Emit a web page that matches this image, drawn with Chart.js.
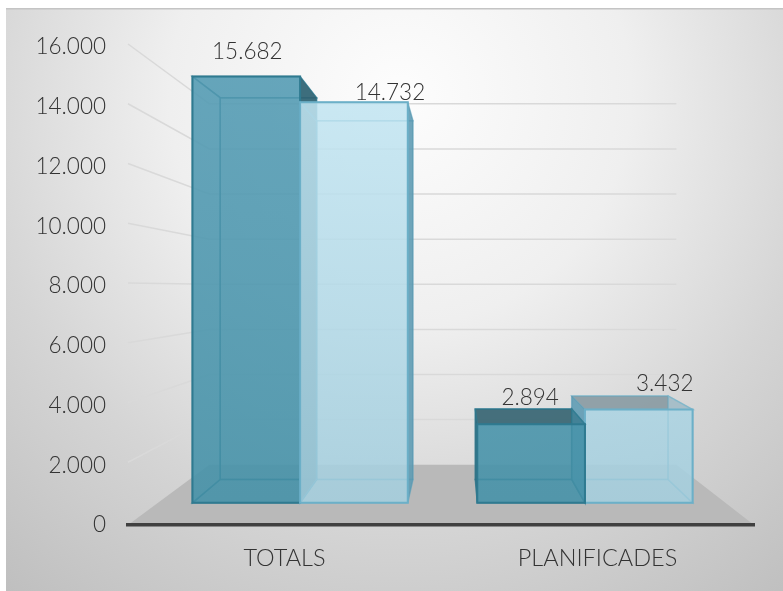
<!DOCTYPE html>
<html>
<head>
<meta charset="utf-8">
<style>
  html, body { margin: 0; padding: 0; background: #fff; }
  canvas { display: block; }
</style>
<script src="https://cdn.jsdelivr.net/npm/chart.js@4"></script>
</head>
<body>
<canvas id="myChart" width="783" height="591"></canvas>
<script>
const categories = ["TOTALS", "PLANIFICADES"];
const seriesA = [15682, 2894];
const seriesB = [14732, 3432];
// hand placed data labels in the original, offset from the top middle of the front face
const labelNudgeA = [[1, -25], [-1, -26]];
const labelNudgeB = [[36, -10], [26, -26]];

const FAMILY = "Lato, 'Open Sans', sans-serif";
const FONT = "300 22.5px " + FAMILY;
const TEXT = "#333333";

// perspective of the 3D view: everything shrinks towards this point
const vanish = { x: 458, y: 279 };
const depth = { front: 0.91, back: 0.815, wall: 0.755 };

function project(px, py, k) {
  return [vanish.x + (px - vanish.x) * k, vanish.y + (py - vanish.y) * k];
}

function fmt(v) {
  return v.toLocaleString("de-DE");
}

function quad(ctx, pts, fill, stroke, lw) {
  ctx.beginPath();
  pts.forEach((p, i) => (i ? ctx.lineTo(p[0], p[1]) : ctx.moveTo(p[0], p[1])));
  ctx.closePath();
  if (fill) {
    ctx.fillStyle = fill;
    ctx.fill();
  }
  if (stroke) {
    ctx.strokeStyle = stroke;
    ctx.lineWidth = lw || 1.5;
    ctx.stroke();
  }
}

const boxStyles = [
  {
    edge: "#2f7a90",
    backEdge: "rgba(47,122,144,0.7)",
    face: "rgba(70,146,170,0.62)",
    frontTop: "rgba(88,158,182,0.72)",
    frontBottom: "rgba(70,146,168,0.72)",
    side: "rgba(48,96,112,0.85)",
    sideEdge: "rgba(47,122,144,0.6)",
    topBelow: "rgba(44,84,96,0.7)",
  },
  {
    edge: "#6cb0c8",
    backEdge: "rgba(108,176,200,0.5)",
    face: "rgba(186,222,236,0.5)",
    frontTop: "rgba(198,232,244,0.72)",
    frontBottom: "rgba(160,204,220,0.72)",
    side: "rgba(84,148,172,0.8)",
    sideEdge: "rgba(84,148,172,0.4)",
    topBelow: "rgba(120,135,142,0.7)",
  },
];

function drawBox(ctx, bar, style, gradTop, gradBottom) {
  const l = bar.x - bar.width / 2;
  const r = bar.x + bar.width / 2;
  const f = (x, y) => project(x, y, depth.front);
  const b = (x, y) => project(x, y, depth.back);

  // faces far to near
  quad(ctx, [b(l, bar.y), b(r, bar.y), b(r, bar.base), b(l, bar.base)], style.face, style.backEdge, 1.5);
  quad(ctx, [f(l, bar.base), f(r, bar.base), b(r, bar.base), b(l, bar.base)], style.face, style.backEdge, 1.5);

  const seenFromAbove = f(l, bar.y)[1] > vanish.y;
  quad(ctx, [f(l, bar.y), f(r, bar.y), b(r, bar.y), b(l, bar.y)],
    seenFromAbove ? style.topBelow : style.face, style.backEdge, 1.5);

  // left of the viewpoint the right side is turned to the viewer, and the other way round
  const rightSide = [f(r, bar.y), b(r, bar.y), b(r, bar.base), f(r, bar.base)];
  const leftSide = [f(l, bar.y), b(l, bar.y), b(l, bar.base), f(l, bar.base)];
  if (f(r, 0)[0] < vanish.x) {
    quad(ctx, leftSide, style.face, style.backEdge, 1.5);
    quad(ctx, rightSide, style.side, style.sideEdge, 1);
  } else {
    quad(ctx, rightSide, style.face, style.backEdge, 1.5);
    quad(ctx, leftSide, style.side, style.sideEdge, 1);
  }

  const grad = ctx.createLinearGradient(0, gradTop, 0, gradBottom);
  grad.addColorStop(0, style.frontTop);
  grad.addColorStop(1, style.frontBottom);
  quad(ctx, [f(l, bar.y), f(r, bar.y), f(r, bar.base), f(l, bar.base)], grad, style.edge, 2);
}

const scene3d = {
  id: "scene3d",
  beforeDraw(chart) {
    const ctx = chart.ctx;
    ctx.save();
    ctx.fillStyle = "#fff";
    ctx.fillRect(0, 0, chart.width, chart.height);
    const grad = ctx.createRadialGradient(400, 95, 0, 400, 95, 660);
    grad.addColorStop(0, "#fdfdfd");
    grad.addColorStop(0.35, "#efefef");
    grad.addColorStop(0.65, "#d5d5d5");
    grad.addColorStop(1, "#bcbcbc");
    ctx.fillStyle = grad;
    ctx.fillRect(6, 8, chart.width - 6, chart.height - 8);
    ctx.fillStyle = "#c4c4c4";
    ctx.fillRect(6, 8, chart.width - 6, 1.5);
    ctx.restore();
  },
  // walls, floor and the boxes, all taken from the scales and bar elements
  beforeDatasetsDraw(chart) {
    const ctx = chart.ctx;
    const y = chart.scales.y;
    const area = chart.chartArea;
    const k = depth.wall;
    const backLeft = area.left + 0.13 * (area.right - area.left);
    const backRight = area.right - 0.124 * (area.right - area.left);

    ctx.save();
    const floorBack = project(0, y.getPixelForValue(0), k)[1];
    quad(ctx, [
      [area.left, y.getPixelForValue(0)],
      [area.right, y.getPixelForValue(0)],
      [backRight, floorBack],
      [backLeft, floorBack],
    ], "#b9b9b9");

    ctx.strokeStyle = "#d9d9d9";
    ctx.lineWidth = 1.5;
    y.ticks.forEach((t) => {
      if (t.value === 0) return;
      const py = y.getPixelForValue(t.value);
      const by = project(0, py, k)[1];
      ctx.beginPath();
      ctx.moveTo(area.left, py - 3);
      ctx.lineTo(backLeft, by);
      ctx.lineTo(backRight, by);
      ctx.stroke();
    });

    const metaA = chart.getDatasetMeta(0).data;
    const metaB = chart.getDatasetMeta(1).data;
    const gradTop = project(0, y.getPixelForValue(Math.max(...seriesA)), depth.front)[1];
    const gradBottom = project(0, y.getPixelForValue(0), depth.front)[1];
    categories.forEach((c, i) => {
      // farthest from the viewpoint first so nearer boxes paint over
      const pair = [
        { bar: metaA[i], style: boxStyles[0] },
        { bar: metaB[i], style: boxStyles[1] },
      ];
      pair.sort((a, b) => Math.abs(b.bar.x - vanish.x) - Math.abs(a.bar.x - vanish.x));
      pair.forEach((p) => drawBox(ctx, p.bar, p.style, gradTop, gradBottom));
    });
    ctx.restore();
  },
  beforeDatasetDraw() {
    return false; // boxes are painted above
  },
  afterDatasetsDraw(chart) {
    const ctx = chart.ctx;
    ctx.save();
    ctx.font = FONT;
    ctx.fillStyle = TEXT;
    ctx.textAlign = "center";
    ctx.textBaseline = "middle";
    [[seriesA, labelNudgeA], [seriesB, labelNudgeB]].forEach((s, d) => {
      chart.getDatasetMeta(d).data.forEach((bar, i) => {
        const p = project(bar.x, bar.y, depth.front);
        ctx.fillText(fmt(s[0][i]), p[0] + s[1][i][0], p[1] + s[1][i][1]);
      });
    });
    ctx.restore();
  },
};

const myChart = new Chart(document.getElementById("myChart"), {
  type: "bar",
  data: {
    labels: categories,
    datasets: [
      { label: "Sèrie 1", data: seriesA, backgroundColor: "#4f9ab3" },
      { label: "Sèrie 2", data: seriesB, backgroundColor: "#bfe3f0" },
    ],
  },
  options: {
    responsive: false,
    animation: false,
    devicePixelRatio: 1,
    categoryPercentage: 0.756,
    barPercentage: 1,
    layout: { padding: { left: 0, right: 29, top: 47, bottom: 0 } },
    plugins: { legend: { display: false }, tooltip: { enabled: false } },
    scales: {
      x: {
        grid: { display: false },
        border: { color: "#404040", width: 3.5, z: 1 }, // axis line has to sit on top of the floor
        ticks: { color: TEXT, font: { family: FAMILY, size: 23.5, weight: "300" }, padding: 11 },
        afterFit(scale) {
          scale.height = 66;
        },
      },
      y: {
        min: 0,
        max: 16000,
        grid: { display: false },
        border: { display: false },
        ticks: {
          stepSize: 2000,
          color: TEXT,
          font: { family: FAMILY, size: 22.5, weight: "300" },
          padding: 14,
          callback: (v) => fmt(v),
        },
        afterFit(scale) {
          scale.width = 128;
        },
      },
    },
  },
  plugins: [scene3d],
});
</script>
</body>
</html>
